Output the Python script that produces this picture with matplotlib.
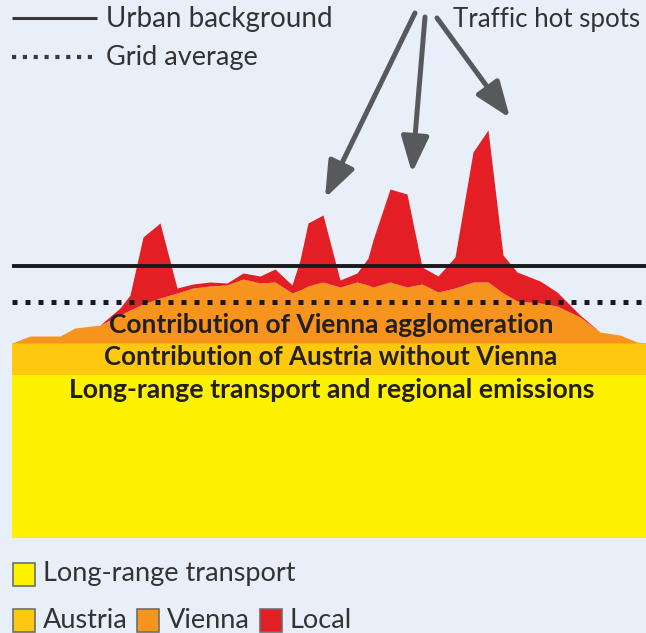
import numpy as np
import matplotlib
matplotlib.use('Agg')
from matplotlib import pyplot as plt
from matplotlib.patches import Rectangle

# positions along the street profile and contributions (arbitrary units)
dist = [12, 30, 60, 75, 100, 120, 130, 143, 160, 177, 193, 210, 227, 243, 260, 275, 292, 300, 308, 323,
        340, 357, 368, 373, 390, 407, 422, 438, 455, 473, 488, 503, 517, 540, 557, 580, 600, 620, 637, 646]
long_range = 163
austria = 32
vienna = [0, 7, 7, 15, 18, 28, 33, 39, 45, 50, 55, 57, 58, 64, 60, 61, 50, 53, 57, 61,
          56, 61, 58, 56, 61, 56, 59, 51, 55, 61, 61, 50, 42, 40, 37, 26, 11, 8, 1, 0]
local = [0, 0, 0, 0, 0, 7, 15, 67, 75, 5, 4, 4, 2, 6, 7, 13, 8, 30, 63, 67,
         7, 9, 27, 47, 93, 93, 17, 16, 31, 130, 152, 38, 29, 22, 14, 2, 0, 0, 0, 0]
urban_background = 272
grid_average = 236

# arrows to the hot spots: (tail x, tail y, head x, head y)
hot_spot_arrows = [(415, 525, 325, 340), (425, 521, 412, 365), (437, 520, 510, 420)]

legend_rows = [[('Long-range transport', '#FFF200')],
               [('Austria', '#FEC80F'), ('Vienna', '#F7941D'), ('Local', '#E31E24')]]

bg = '#E8EFF8'
dark = '#231F20'
grey_text = '#333333'

fig = plt.figure(figsize=(6.46, 6.33), dpi=100)
fig.patch.set_facecolor(bg)
ax = fig.add_axes([0, 0, 1, 1])
ax.set_facecolor(bg)
ax.set_xlim(0, 646)
ax.set_ylim(-95, 538)
ax.axis('off')

x = np.array(dist, dtype=float)
base_lr = long_range
base_at = long_range + austria
vienna_top = base_at + np.array(vienna)
local_top = vienna_top + np.array(local)

ax.fill_between([12, 646], 0, base_lr, color='#FFF200', lw=0)
ax.fill_between([12, 646], base_lr, base_at, color='#FEC80F', lw=0)
ax.fill_between(x, base_at, vienna_top, color='#F7941D', lw=0)
ax.fill_between(x, vienna_top, local_top, color='#E31E24', lw=0)

ax.plot([12, 646], [urban_background] * 2, color='#1A1A1A', lw=2.8, solid_capstyle='butt')
ax.plot([12, 646], [grid_average] * 2, color='#1A1A1A', lw=3.6,
        linestyle=(0, (1, 1.6)), dash_capstyle='butt')

fig.canvas.draw()
renderer = fig.canvas.get_renderer()


def fit_text(xp, yp, s, width_px, size=16, **kw):
    t = ax.text(xp, yp, s, fontsize=size, **kw)
    w = t.get_window_extent(renderer).width
    t.set_fontsize(size * width_px / w)
    return t


lato = ['Lato', 'DejaVu Sans']

# top legend
ax.plot([12, 97], [520, 520], color='#3A3A3A', lw=2.2, solid_capstyle='butt')
ax.plot([12, 97], [481, 481], color='#3A3A3A', lw=3.0, linestyle=(0, (1, 1.6)), dash_capstyle='butt')
fit_text(106, 519, 'Urban background', 227, va='center', color=grey_text, family=lato)
fit_text(106, 480, 'Grid average', 153, va='center', color=grey_text, family=lato)
fit_text(453, 519, 'Traffic hot spots', 187, va='center', color=grey_text, family=lato)

for x0, y0, x1, y1 in hot_spot_arrows:
    ax.annotate('', xy=(x1, y1), xytext=(x0, y0),
                arrowprops=dict(arrowstyle='-|>,head_length=1.1,head_width=0.42',
                                color='#58595B', lw=3.6, shrinkA=0, shrinkB=0,
                                mutation_scale=20))

# labels of the layers
fit_text(331, 213, 'Contribution of Vienna agglomeration', 446, ha='center', va='center',
         color=dark, family=lato, fontweight='bold')
fit_text(331, 181, 'Contribution of Austria without Vienna', 452, ha='center', va='center',
         color=dark, family=lato, fontweight='bold')
fit_text(332, 148, 'Long-range transport and regional emissions', 528, ha='center', va='center',
         color=dark, family=lato, fontweight='bold')

# bottom legend
row_y = [-36, -82]
row_x = [[13], [13, 137, 260]]
for ry, rx, items in zip(row_y, row_x, legend_rows):
    for sx, (label, col) in zip(rx, items):
        ax.add_patch(Rectangle((sx, ry - 11.5), 22, 23, facecolor=col, edgecolor='#6D6E71', lw=1.2))
        ax.text(sx + 30, ry, label, fontsize=19.5, va='center', color=grey_text, family=lato)

fig.savefig('out.png', dpi=100, facecolor=bg)
